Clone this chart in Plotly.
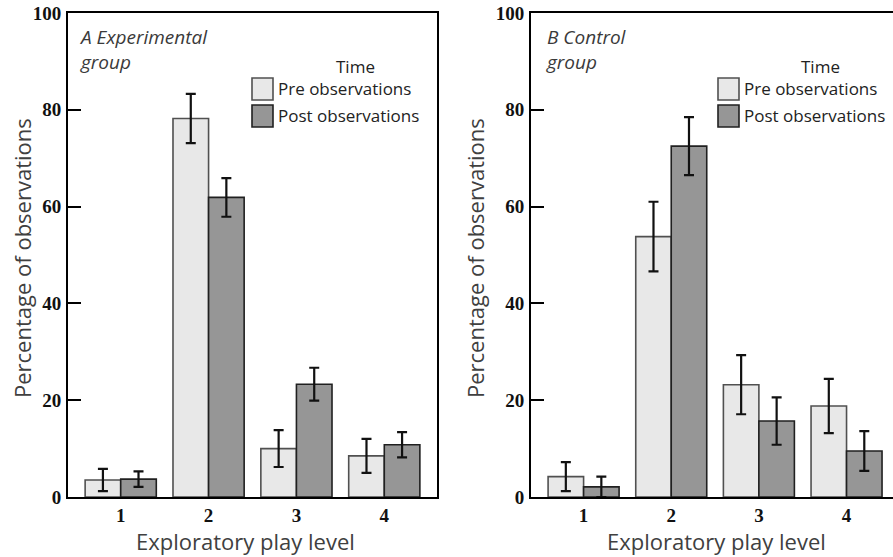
import plotly.graph_objects as go

levels = [1, 2, 3, 4]
tick_labels = ["1", "2", "3", "4"]

exp_pre = [3.5, 78.2, 10.0, 8.5]
exp_pre_err = [2.3, 5.1, 3.8, 3.5]
exp_post = [3.7, 61.9, 23.3, 10.8]
exp_post_err = [1.6, 4.0, 3.4, 2.6]

ctl_pre = [4.2, 53.8, 23.2, 18.8]
ctl_pre_err = [3.0, 7.2, 6.1, 5.6]
ctl_post = [2.1, 72.5, 15.7, 9.5]
ctl_post_err = [2.1, 6.0, 4.9, 4.1]

series_names = ["Pre observations", "Post observations"]
fill_colors = ["#e8e8e8", "#969696"]
outline_colors = ["#505050", "#202020"]

W, H = 893, 557
fig = go.Figure()

def add_bars(xa, ya, pre, pre_err, post, post_err):
    for name, vals, errs, col, oc in [(series_names[0], pre, pre_err, fill_colors[0], outline_colors[0]),
                                      (series_names[1], post, post_err, fill_colors[1], outline_colors[1])]:
        fig.add_trace(go.Bar(
            x=levels, y=vals, name=name, xaxis=xa, yaxis=ya,
            marker=dict(color=col, line=dict(color=oc, width=1.6)),
            error_y=dict(type="data", array=errs, visible=True,
                         color="#111111", thickness=2.2, width=5),
            showlegend=False, offsetgroup=name,
        ))

add_bars("x", "y", exp_pre, exp_pre_err, exp_post, exp_post_err)
add_bars("x2", "y2", ctl_pre, ctl_pre_err, ctl_post, ctl_post_err)

def px_x(p):
    return p / W

def px_y(p):
    return 1 - p / H

ydom = [px_y(497), px_y(13)]
tickfont = dict(family="Liberation Serif", size=19, color="#111111", weight="bold")
axis_common = dict(showline=True, linecolor="#000000", linewidth=2, showgrid=False, zeroline=False,
                   automargin=False)

fig.update_layout(
    width=W, height=H,
    margin=dict(l=0, r=0, t=0, b=0, autoexpand=False),
    paper_bgcolor="white", plot_bgcolor="white",
    barmode="group", bargap=0.19, bargroupgap=0,
    xaxis=dict(domain=[px_x(68), px_x(437)], range=[0.4, 4.6], tickvals=levels, ticktext=tick_labels,
               ticks="", mirror=True, tickfont=tickfont, anchor="y", **axis_common),
    yaxis=dict(domain=ydom, range=[0, 100], tickvals=[0, 20, 40, 60, 80, 100], ticks="inside",
               ticklen=13, tickwidth=2, tickcolor="#000000", mirror=True, tickfont=tickfont,
               anchor="x", ticklabelstandoff=1, **axis_common),
    xaxis2=dict(domain=[px_x(531), 1.0], range=[0.4, 4.53], tickvals=levels, ticktext=tick_labels,
                ticks="", mirror=True, tickfont=tickfont, anchor="y2", **axis_common),
    yaxis2=dict(domain=ydom, range=[0, 100], tickvals=[0, 20, 40, 60, 80, 100], ticks="inside",
                ticklen=13, tickwidth=2, tickcolor="#000000", mirror=False, tickfont=tickfont,
                anchor="x2", ticklabelstandoff=1, **axis_common),
    font=dict(family="Open Sans", color="#333333"),
)

annotations = []
shapes = []
title_font = dict(family="Open Sans", size=22, color="#404040")
label_font = dict(family="Open Sans", size=19, color="#3a3a3a")
legend_font = dict(family="Open Sans", size=17, color="#222222")

# Axis titles
for cx in [22, 475]:
    annotations.append(dict(text="Percentage of observations", x=px_x(cx), y=px_y(258), xref="paper", yref="paper",
                            textangle=-90, showarrow=False, font=title_font, xanchor="center", yanchor="middle"))
for cx in [245, 716]:
    annotations.append(dict(text="Exploratory play level", x=px_x(cx), y=px_y(541), xref="paper", yref="paper",
                            showarrow=False, font=title_font, xanchor="center", yanchor="middle"))

# Panel labels
for lx, txt in [(77, "A Experimental<br>group"), (544, "B Control<br>group")]:
    annotations.append(dict(text="<i>" + txt + "</i>", x=px_x(lx), y=px_y(22), xref="paper", yref="paper",
                            showarrow=False, font=label_font, xanchor="left", yanchor="top", align="left"))

# Legends
for sx, tx in [(252, 355), (718, 820)]:
    annotations.append(dict(text="Time", x=px_x(tx), y=px_y(67), xref="paper", yref="paper",
                            showarrow=False, font=legend_font, xanchor="center", yanchor="middle"))
    for i, (name, col, oc) in enumerate(zip(series_names, fill_colors, outline_colors)):
        top = 78 + i * 27
        shapes.append(dict(type="rect", xref="paper", yref="paper",
                           x0=px_x(sx), x1=px_x(sx + 21), y0=px_y(top), y1=px_y(top + 22),
                           fillcolor=col, line=dict(color=oc, width=1.6)))
        annotations.append(dict(text=name, x=px_x(sx + 24), y=px_y(top + 11), xref="paper", yref="paper",
                                showarrow=False, font=legend_font, xanchor="left", yanchor="middle"))

fig.update_layout(annotations=annotations, shapes=shapes)
fig.write_html("out.html", config={"displayModeBar": False},
               post_script="document.body.style.margin='0';document.body.style.overflow='hidden';")
